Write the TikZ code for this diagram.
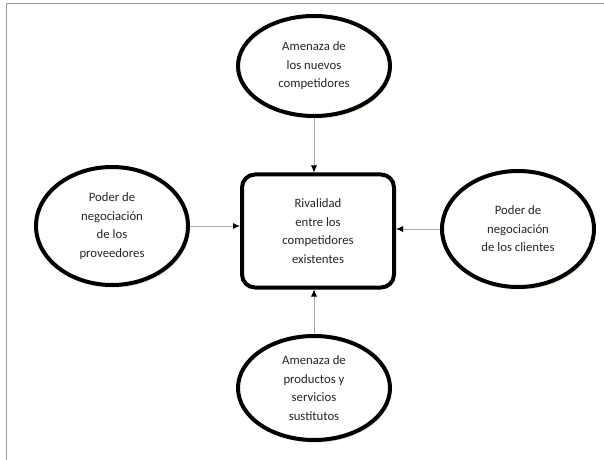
\documentclass[tikz,border=0pt]{standalone}
\usepackage{fontspec}
\setmainfont{Carlito}
\usetikzlibrary{shapes.geometric,arrows.meta,shadows}
\begin{document}
\begin{tikzpicture}[x=1bp,y=-1bp,
  force/.style={ellipse,draw,line width=4bp,minimum width=152bp,minimum height=100bp,
    inner sep=0pt,align=center,text=black!85,
    drop shadow={shadow xshift=1.5bp,shadow yshift=-2.5bp,fill=olive!35!gray!50,opacity=0.6},
    fill=white,font=\fontsize{12.8}{18.5}\selectfont},
  core/.style={rectangle,draw,line width=4bp,rounded corners=13bp,minimum width=152bp,
    minimum height=113bp,inner sep=0pt,align=center,text=black!85,fill=white,
    font=\fontsize{12.8}{18.5}\selectfont},
  conn/.style={gray!70,line width=0.8bp,-{Latex[black,length=7bp,width=6bp]}}]
\useasboundingbox (0,0) rectangle (604,460);
% frame
\draw [gray!80,line width=1bp] (604,3.5) -- (6,3.5) -- (6,460);
% forces
\node [core] (rivalry) at (318,231) {Rivalidad\\entre los\\competidores\\existentes};
\node [force] (entrants) at (314,66) {Amenaza de\\los nuevos\\competidores};
\node [force,minimum height=118bp] (suppliers) at (112,226) {Poder de\\negociación\\de los\\proveedores};
\node [force,minimum height=116bp] (buyers) at (518,229) {Poder de\\negociación\\de los clientes};
\node [force,minimum height=104bp] (substitutes) at (314,388) {Amenaza de\\productos y\\servicios\\sustitutos};
% arrows
\draw [conn] (entrants.south) -- (entrants.south |- rivalry.north);
\draw [conn] (substitutes.north) -- (substitutes.north |- rivalry.south);
\draw [conn] (suppliers.east) -- (suppliers.east -| rivalry.west);
\draw [conn] (buyers.west) -- (buyers.west -| rivalry.east);
\end{tikzpicture}
\end{document}
